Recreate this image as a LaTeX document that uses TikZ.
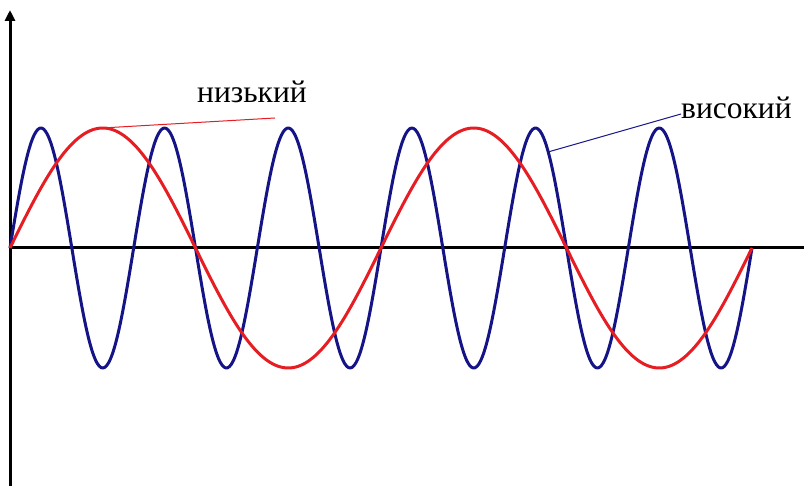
\documentclass[tikz,border=0pt]{standalone}
\usepackage{fontspec}
\setmainfont{Liberation Serif}
\usetikzlibrary{arrows.meta}
\definecolor{wred}{RGB}{230,30,35}
\definecolor{wblue}{RGB}{20,20,135}
\begin{document}
\begin{tikzpicture}[x=1pt,y=-1pt,
  axis/.style={line width=3pt,black},
  wave/.style={line width=3pt,line join=round},
  lbl/.style={font=\fontsize{31.5}{34}\selectfont,inner sep=0pt,anchor=base west},
  lead/.style={line width=1pt}]
\useasboundingbox (0,0) rectangle (804,486);
\fill[white] (0,0) rectangle (804,486);
\coordinate (ob) at (10,486);
\coordinate (ot) at (10,10);
\coordinate (xl) at (10,248);
\coordinate (xr) at (804,248);
\draw[axis] (xl) -- (xr);
\draw[axis,-{Triangle[length=11pt,width=10pt]}] (ob) -- (ot);
\draw[wave,wblue] plot[domain=10:752,samples=400,smooth] (\x,{248-120*sin(2.911051*(\x-10))});
\draw[wave,wred] plot[domain=10:752,samples=300,smooth] (\x,{248-120*sin(0.970350*(\x-10))});
\node[lbl] (low) at (197,103) {низький};
\node[lbl] (high) at (681,119) {високий};
\coordinate (lowp) at (102,128);
\coordinate (lowe) at (275,118);
\coordinate (highp) at (548,152);
\coordinate (highe) at (681,114);
\draw[lead,wred] (lowp) -- (lowe);
\draw[lead,wblue] (highp) -- (highe);
\end{tikzpicture}
\end{document}
